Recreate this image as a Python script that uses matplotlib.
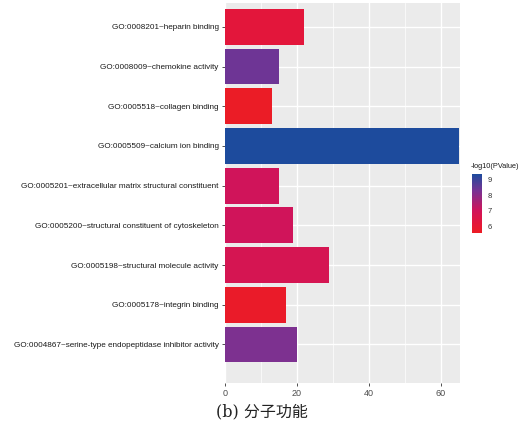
import matplotlib.pyplot as plt
import matplotlib as mpl
from matplotlib.colors import LinearSegmentedColormap, Normalize
import numpy as np

terms = ['GO:0008201~heparin binding',
         'GO:0008009~chemokine activity',
         'GO:0005518~collagen binding',
         'GO:0005509~calcium ion binding',
         'GO:0005201~extracellular matrix structural constituent',
         'GO:0005200~structural constituent of cytoskeleton',
         'GO:0005198~structural molecule activity',
         'GO:0005178~integrin binding',
         'GO:0004867~serine-type endopeptidase inhibitor activity']
counts = [22, 15, 13, 65, 15, 19, 29, 17, 20]
logp = [6.2, 8.4, 5.6, 9.37, 7.0, 7.0, 6.8, 5.7, 8.2]

vmin, vmax = 5.55, 9.37
cmap = LinearSegmentedColormap.from_list('rb', [
    (0.0, '#ec1c24'), (0.17, '#e3163b'), (0.38, '#d0145a'),
    (0.72, '#763394'), (1.0, '#1d4b9d')])
norm = Normalize(vmin, vmax)

plt.rcParams['font.family'] = ['Liberation Sans', 'DejaVu Sans']
fig = plt.figure(figsize=(5.22, 4.21), dpi=100)
ax = fig.add_axes([225/522, 38/421, 235/522, 380/421])
ax.set_facecolor('#ebebeb')

y = np.arange(len(terms))[::-1] + 1
ax.barh(y, counts, height=0.9, color=[cmap(norm(v)) for v in logp], zorder=3)

ax.set_xlim(0, 65.3)
ax.set_ylim(0.03, 9.6)
ax.set_xticks([0, 20, 40, 60])
ax.set_xticks([10, 30, 50], minor=True)
ax.set_yticks(y)
ax.set_yticklabels(terms, fontsize=5.9, color='#1a1a1a')
ax.grid(True, which='major', color='white', lw=1.0, zorder=1)
ax.grid(True, which='minor', axis='x', color='white', lw=0.5, zorder=1)
ax.tick_params(axis='both', which='major', length=2.5, width=0.6, color='#333333', pad=2)
ax.tick_params(axis='x', labelsize=6.5, labelcolor='#4d4d4d')
ax.tick_params(which='minor', length=0)
for s in ax.spines.values():
    s.set_visible(False)

# colour legend
cax = fig.add_axes([472/522, (421-233)/421, 10/522, 59/421])
cb = mpl.colorbar.ColorbarBase(cax, cmap=cmap, norm=norm, ticks=[6, 7, 8, 9])
cb.outline.set_visible(False)
cax.tick_params(length=2, width=0.6, color='white', labelsize=5.5, labelcolor='#333333', pad=2)
fig.text(471/522, (421-167)/421, '-log10(PValue)', fontsize=5.3, va='center', ha='left', color='#1a1a1a')

fig.text(216/522, 1/421, '(b) 分子功能', fontsize=11.5,
         family=['DejaVu Serif', 'Noto Sans CJK SC'], ha='left', va='bottom', color='#222222')

fig.savefig('out.png', dpi=100)
